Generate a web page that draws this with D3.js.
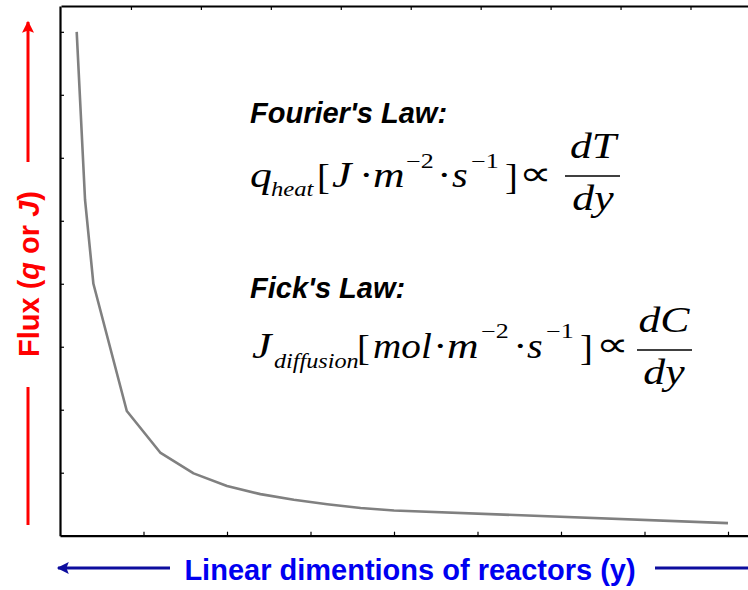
<!DOCTYPE html>
<html>
<head>
<meta charset="utf-8">
<script src="https://cdn.jsdelivr.net/npm/d3@7"></script>
<style>
  body { margin: 0; background: #fff; }
  svg { display: block; }
</style>
</head>
<body>
<div id="chart"></div>
<script>
// flux curve (x in tick units, y in tick units)
const yPos = [0.2, 0.3, 0.4, 0.8, 1.2, 1.6, 2.0, 2.4, 2.8, 3.2, 3.6, 4.0, 8.0];
const flux = [8.0, 5.33, 4.0, 1.98, 1.32, 0.99, 0.79, 0.66, 0.57, 0.5, 0.44, 0.4, 0.2];
const xTicks = [1, 2, 3, 4, 5, 6, 7, 8, 9];
const yTicks = [1, 2, 3, 4, 5, 6, 7, 8];
const topTicks = [1, 2, 3, 4, 5, 6, 7, 8, 9, 10];

const xLabel = "Linear dimentions of reactors (y)";
const lawTitles = ["Fourier's Law:", "Fick's Law:"];

const W = 748, H = 590;
const margin = {top: 6, left: 60, bottom: 54};
const plotRight = 811.5;

const svg = d3.select("#chart").append("svg")
  .attr("width", W)
  .attr("height", H);

// scales
const x = d3.scaleLinear().domain([0, 9]).range([margin.left, plotRight]);
const y = d3.scaleLinear().domain([0, 8.41]).range([H - margin.bottom - 0.3, margin.top]);
const xTop = d3.scaleLinear().domain([0, 10.73]).range([61, plotRight]);

// axes (ticks pointing inwards, no labels)
const axisStyle = g => {
  g.select(".domain").attr("stroke", "#000").attr("stroke-width", 2.2);
  g.selectAll(".tick line").attr("stroke", "#000").attr("stroke-width", 1.2);
  g.selectAll(".tick text").remove();
};

svg.append("g")
  .attr("transform", `translate(${margin.left},0)`)
  .call(d3.axisLeft(y).tickValues(yTicks).tickSize(-4).tickSizeOuter(0).tickFormat(""))
  .call(axisStyle);

svg.append("g")
  .attr("transform", `translate(0,${y(0)})`)
  .call(d3.axisBottom(x).tickValues(xTicks).tickSize(-4).tickSizeOuter(0).tickFormat(""))
  .call(axisStyle);

svg.append("g")
  .attr("transform", `translate(0,${margin.top})`)
  .call(d3.axisTop(xTop).tickValues(topTicks).tickSize(-4).tickSizeOuter(0).tickFormat(""))
  .call(axisStyle);

// the curve
const line = d3.line()
  .x((d, i) => x(yPos[i]))
  .y(d => y(d));

svg.append("path")
  .datum(flux)
  .attr("d", line)
  .attr("fill", "none")
  .attr("stroke", "#808080")
  .attr("stroke-width", 2.6)
  .attr("stroke-linejoin", "round");

// arrow heads
const defs = svg.append("defs");
function addArrow(id, color) {
  defs.append("marker")
    .attr("id", id)
    .attr("viewBox", "0 0 10 10")
    .attr("refX", 9).attr("refY", 5)
    .attr("markerWidth", 5).attr("markerHeight", 4)
    .attr("markerUnits", "strokeWidth")
    .attr("orient", "auto")
    .append("path")
    .attr("d", "M0,0 L10,5 L0,10 L2,5 Z")
    .attr("fill", color);
}
addArrow("arrRed", "#ff0000");
addArrow("arrBlue", "#0d0d9e");

// y label with arrow
const red = "#ff0000";
svg.append("line")
  .attr("x1", 28).attr("y1", 162).attr("x2", 28).attr("y2", 22)
  .attr("stroke", red).attr("stroke-width", 3)
  .attr("marker-end", "url(#arrRed)");
svg.append("line")
  .attr("x1", 28).attr("y1", 387).attr("x2", 28).attr("y2", 525)
  .attr("stroke", red).attr("stroke-width", 3);

const yLab = svg.append("text")
  .attr("transform", "translate(39,274) rotate(-90)")
  .attr("text-anchor", "middle")
  .attr("font-family", "'Liberation Sans', Arial, sans-serif")
  .attr("font-weight", "bold")
  .attr("font-size", 29)
  .attr("fill", red);
yLab.append("tspan").text("Flux (");
yLab.append("tspan").attr("font-style", "italic").text("q");
yLab.append("tspan").text(" or ");
yLab.append("tspan").attr("font-style", "italic").text("J");
yLab.append("tspan").text(")");

// x label with arrows
const blue = "#0d0d9e";
svg.append("line")
  .attr("x1", 170).attr("y1", 568).attr("x2", 58).attr("y2", 568)
  .attr("stroke", blue).attr("stroke-width", 3)
  .attr("marker-end", "url(#arrBlue)");
svg.append("line")
  .attr("x1", 655).attr("y1", 568).attr("x2", 760).attr("y2", 568)
  .attr("stroke", blue).attr("stroke-width", 3);

svg.append("text")
  .attr("x", 410).attr("y", 580)
  .attr("text-anchor", "middle")
  .attr("font-family", "'Liberation Sans', Arial, sans-serif")
  .attr("font-weight", "bold")
  .attr("font-size", 29)
  .attr("fill", "#0000f0")
  .text(xLabel);

// law titles
svg.selectAll(".law")
  .data(lawTitles)
  .join("text")
  .attr("class", "law")
  .attr("x", 250)
  .attr("y", (d, i) => i === 0 ? 123 : 298)
  .attr("font-family", "'Liberation Sans', Arial, sans-serif")
  .attr("font-weight", "bold")
  .attr("font-style", "italic")
  .attr("font-size", 29)
  .attr("fill", "#000")
  .text(d => d);

// equations, piece by piece (the original math font is wide, so stretch x)
const serif = "'Liberation Serif', 'Times New Roman', serif";
function piece(px, py, txt, size, italic, sx, anchor) {
  svg.append("text")
    .attr("transform", `translate(${px},${py}) scale(${sx || 1.25},1)`)
    .attr("font-family", serif)
    .attr("font-size", size)
    .attr("font-style", italic ? "italic" : "normal")
    .attr("text-anchor", anchor || "start")
    .attr("fill", "#000")
    .text(txt);
}
function frac(cx, top, bottom, barY, x0, x1) {
  piece(cx, barY - 18, top, 35, true, 1.25, "middle");
  svg.append("line")
    .attr("x1", x0).attr("x2", x1).attr("y1", barY).attr("y2", barY)
    .attr("stroke", "#000").attr("stroke-width", 1.6);
  piece(cx, barY + 34, bottom, 35, true, 1.25, "middle");
}

// Fourier
let b = 187;
piece(250, b, "q", 35, true);
piece(271, b + 9, "heat", 22, true, 1.12);
piece(317, b + 2, "[", 35, false, 1.1);
piece(332, b, "J", 35, true);
piece(359, b, "·", 35, false);
piece(373, b, "m", 35, true);
piece(406, b - 19, "−2", 20, false, 1.3);
piece(437, b, "·", 35, false);
piece(452, b, "s", 35, true, 1.15);
piece(471, b - 19, "−1", 20, false, 1.3);
piece(505, b + 2, "]", 35, false, 1.1);
piece(519, b - 2, "∝", 34, false, 1.35);
frac(593, "dT", "dy", 176, 565, 620);

// Fick
b = 358;
piece(252, b, "J", 35, true);
piece(274, b + 10, "diffusion", 22, true, 1.1);
piece(357, b + 2, "[", 35, false, 1.1);
piece(373, b, "mol", 35, true, 1.12);
piece(433, b, "·", 35, false);
piece(447, b, "m", 35, true);
piece(481, b - 20, "−2", 20, false, 1.3);
piece(513, b, "·", 35, false);
piece(527, b, "s", 35, true, 1.15);
piece(546, b - 20, "−1", 20, false, 1.3);
piece(580, b + 2, "]", 35, false, 1.1);
piece(596, b - 2, "∝", 34, false, 1.35);
frac(664, "dC", "dy", 350, 637, 692);
</script>
</body>
</html>
